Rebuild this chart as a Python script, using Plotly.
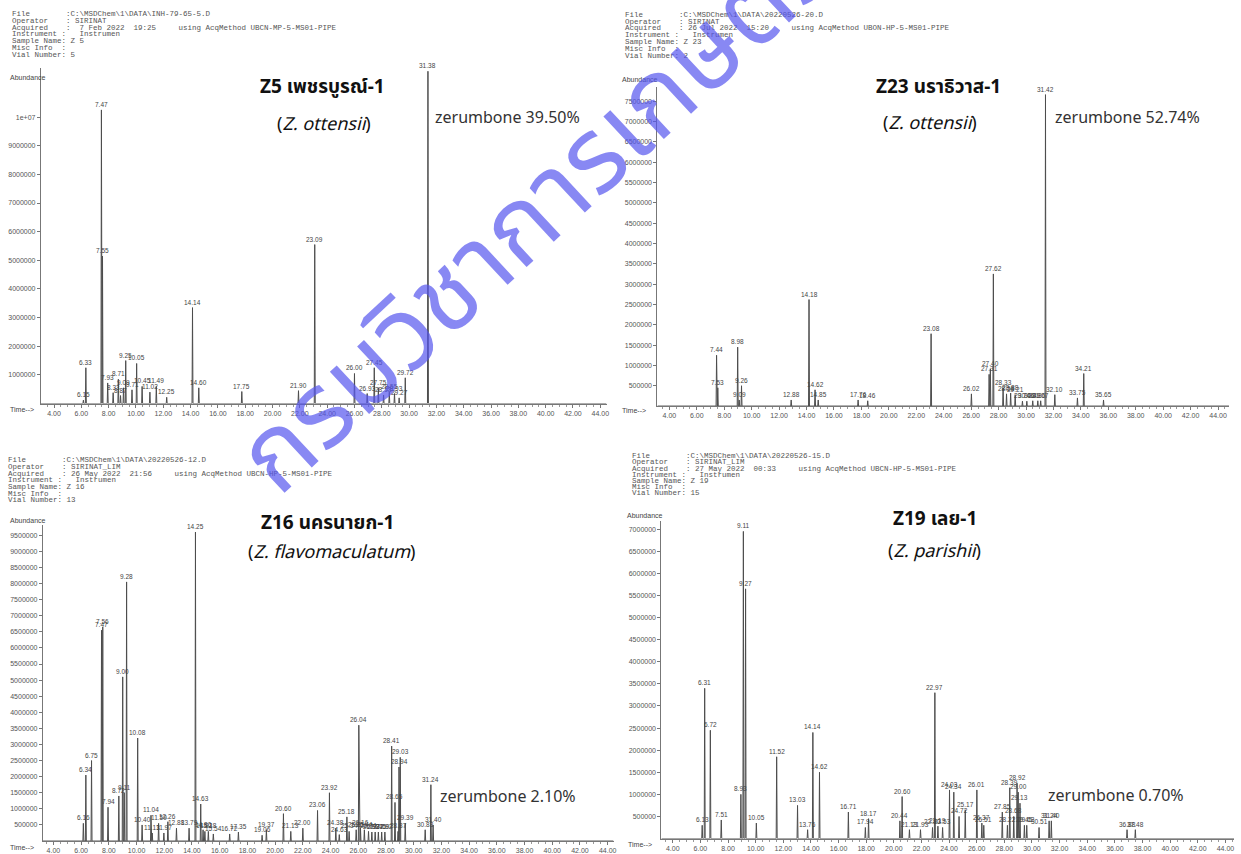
import plotly.graph_objects as go

W, H = 1241, 854

# ---------------- data ----------------
z5_rt = [6.15, 6.33, 7.47, 7.55, 7.93, 8.33, 8.71, 8.87, 9.09, 9.25, 9.71, 10.05, 10.45, 11.02, 11.49,
         12.25, 14.14, 14.60, 17.75, 21.90, 23.09, 26.00, 26.93, 27.45, 27.75, 28.13, 28.55, 28.93,
         29.27, 29.72, 31.38]
z5_abund = [0.12e6, 1.25e6, 10.25e6, 5.15e6, 0.72e6, 0.38e6, 0.85e6, 0.28e6, 0.55e6, 1.5e6, 0.48e6,
            1.4e6, 0.6e6, 0.4e6, 0.6e6, 0.22e6, 3.35e6, 0.55e6, 0.42e6, 0.45e6, 5.55e6, 1.05e6,
            0.35e6, 1.25e6, 0.55e6, 0.3e6, 0.4e6, 0.35e6, 0.2e6, 0.9e6, 11.6e6]

z23_rt = [7.44, 7.53, 8.98, 9.09, 9.26, 12.88, 14.18, 14.62, 14.85, 17.76, 18.46, 23.08, 26.02, 27.31,
          27.40, 27.62, 28.33, 28.58, 28.88, 29.21, 29.74, 30.06, 30.49, 30.86, 31.07, 31.42, 32.10,
          33.75, 34.21, 35.65]
z23_abund = [1.25e6, 0.45e6, 1.45e6, 0.15e6, 0.5e6, 0.15e6, 2.62e6, 0.4e6, 0.15e6, 0.15e6, 0.13e6,
             1.78e6, 0.3e6, 0.78e6, 0.92e6, 3.25e6, 0.45e6, 0.3e6, 0.32e6, 0.28e6, 0.12e6, 0.12e6,
             0.13e6, 0.13e6, 0.13e6, 7.66e6, 0.28e6, 0.2e6, 0.8e6, 0.15e6]

z16_rt = [6.16, 6.34, 6.75, 7.47, 7.56, 7.94, 8.72, 9.00, 9.11, 9.28, 10.08, 10.40, 11.04, 11.13, 11.59,
          11.97, 12.26, 12.88, 13.79, 14.25, 14.63, 14.80, 14.93, 15.18, 15.54, 16.72, 17.35, 19.06,
          19.37, 20.60, 21.13, 22.00, 23.06, 23.92, 24.38, 24.63, 25.18, 25.34, 25.85, 26.04, 26.16,
          26.44, 26.74, 26.98, 27.22, 27.45, 27.69, 27.92, 28.41, 28.65, 28.87, 28.94, 29.03, 29.39,
          30.83, 31.24, 31.40]
z16_abund = [0.55e6, 2.05e6, 2.5e6, 6.55e6, 6.65e6, 1.05e6, 1.4e6, 5.1e6, 1.5e6, 8.05e6, 3.2e6, 0.5e6,
             0.8e6, 0.25e6, 0.55e6, 0.25e6, 0.6e6, 0.4e6, 0.4e6, 9.6e6, 1.15e6, 0.35e6, 0.3e6, 0.3e6,
             0.22e6, 0.22e6, 0.28e6, 0.18e6, 0.35e6, 0.85e6, 0.3e6, 0.4e6, 0.95e6, 1.5e6, 0.4e6, 0.2e6,
             0.75e6, 0.3e6, 0.35e6, 3.6e6, 0.4e6, 0.35e6, 0.3e6, 0.28e6, 0.28e6, 0.28e6, 0.28e6,
             0.28e6, 2.95e6, 1.2e6, 0.3e6, 2.3e6, 2.6e6, 0.55e6, 0.35e6, 1.75e6, 0.5e6]

z19_rt = [6.13, 6.31, 6.72, 7.51, 8.93, 9.11, 9.27, 10.05, 11.52, 13.03, 13.76, 14.14, 14.62, 16.71,
          17.94, 18.17, 20.44, 20.60, 21.13, 21.93, 22.80, 22.97, 23.19, 23.53, 24.03, 24.34, 24.72,
          25.17, 26.01, 26.37, 26.51, 27.85, 28.22, 28.39, 28.68, 28.92, 29.00, 29.13, 29.45, 29.62,
          30.51, 31.24, 31.40, 36.88, 37.48]
z19_abund = [0.3e6, 3.4e6, 2.45e6, 0.42e6, 1.0e6, 6.95e6, 5.65e6, 0.35e6, 1.85e6, 0.75e6, 0.2e6, 2.4e6,
             1.5e6, 0.6e6, 0.25e6, 0.45e6, 0.4e6, 0.95e6, 0.2e6, 0.2e6, 0.25e6, 3.3e6, 0.28e6, 0.25e6,
             1.1e6, 1.05e6, 0.5e6, 0.65e6, 1.1e6, 0.35e6, 0.3e6, 0.6e6, 0.3e6, 1.15e6, 0.5e6, 1.25e6,
             1.05e6, 0.8e6, 0.3e6, 0.3e6, 0.25e6, 0.4e6, 0.4e6, 0.2e6, 0.2e6]

panel_titles = ["Z5 เพชรบูรณ์-1", "Z23 นราธิวาส-1", "Z16 นครนายก-1", "Z19 เลย-1"]
panel_species = ["Z. ottensii", "Z. ottensii", "Z. flavomaculatum", "Z. parishii"]
zerumbone_text = ["zerumbone 39.50%", "zerumbone 52.74%", "zerumbone 2.10%", "zerumbone 0.70%"]

time_ticks = [4, 6, 8, 10, 12, 14, 16, 18, 20, 22, 24, 26, 28, 30, 32, 34, 36, 38, 40, 42, 44]
z5_yticks = [1e6, 2e6, 3e6, 4e6, 5e6, 6e6, 7e6, 8e6, 9e6, 1e7]
z23_yticks = [5e5 * k for k in range(1, 16)]
z16_yticks = [5e5 * k for k in range(1, 20)]
z19_yticks = [5e5 * k for k in range(1, 15)]

headers = [
    ["File        :C:\\MSDChem\\1\\DATA\\INH-79-65-5.D",
     "Operator    : SIRINAT",
     "Acquired    :  7 Feb 2022  19:25     using AcqMethod UBCN-MP-5-MS01-PIPE",
     "Instrument :   Instrumen",
     "Sample Name: Z 5",
     "Misc Info  :",
     "Vial Number: 5"],
    ["File        :C:\\MSDChem\\1\\DATA\\20220526-20.D",
     "Operator    : SIRINAT",
     "Acquired    : 26 Jul 2022  15:20     using AcqMethod UBON-HP-5-MS01-PIPE",
     "Instrument :   Instrumen",
     "Sample Name: Z 23",
     "Misc Info  :",
     "Vial Number: 2"],
    ["File        :C:\\MSDChem\\1\\DATA\\20220526-12.D",
     "Operator    : SIRINAT_LIM",
     "Acquired    : 26 May 2022  21:56     using AcqMethod UBCN-HP-5-MS01-PIPE",
     "Instrument :   Instrumen",
     "Sample Name: Z 16",
     "Misc Info  :",
     "Vial Number: 13"],
    ["File        :C:\\MSDChem\\1\\DATA\\20220526-15.D",
     "Operator    : SIRINAT_LIM",
     "Acquired    : 27 May 2022  00:33     using AcqMethod UBCN-HP-5-MS01-PIPE",
     "Instrument :   Instrumen",
     "Sample Name: Z 19",
     "Misc Info  :",
     "Vial Number: 15"],
]

watermark_text = "กรมวิชาการเกษตร"

# ---------------- layout geometry (pixels) ----------------
panels = [
    dict(rt=z5_rt, ab=z5_abund, yt=z5_yticks, x0=41, x1=608, t0=-0.6, sc=13.69,
         ytop=68, ybase=405, ppm=28.75, hx=10, hy=14, hdy=6.8,
         abx=8, aby=78, tmx=8, tmy=411,
         title=(323, 88), spec=(325, 125), zer=(509, 118)),
    dict(rt=z23_rt, ab=z23_abund, yt=z23_yticks, x0=659, x1=1232, t0=616, sc=13.75,
         ytop=87, ybase=407.5, ppm=40.8, hx=625, hy=15, hdy=6.8,
         abx=622, aby=80, tmx=622, tmy=412,
         title=(941, 88), spec=(932, 124), zer=(1130, 118)),
    dict(rt=z16_rt, ab=z16_abund, yt=z16_yticks, x0=43, x1=615, t0=-2, sc=13.89,
         ytop=527, ybase=844, ppm=32.3, hx=6, hy=462, hdy=6.67,
         abx=8, aby=522, tmx=8, tmy=850,
         title=(328, 525), spec=(332, 554), zer=(509, 800)),
    dict(rt=z19_rt, ab=z19_abund, yt=z19_yticks, x0=663, x1=1237, t0=619, sc=13.85,
         ytop=523, ybase=841.5, ppm=44.35, hx=632, hy=458, hdy=6.1,
         abx=627, aby=517, tmx=628, tmy=847,
         title=(937, 521), spec=(937, 553), zer=(1119, 799)),
]

GRAY = "#4d4d4d"
NARROW = "Liberation Sans Narrow, Liberation Sans, Arial, sans-serif"
MONO = "Liberation Mono, Courier New, monospace"
THAI = "Noto Sans Thai, Noto Sans, DejaVu Sans, sans-serif"

fig = go.Figure()
annotations = []
layout_axes = {}

for i, p in enumerate(panels, start=1):
    xa = "x" if i == 1 else f"x{i}"
    ya = "y" if i == 1 else f"y{i}"
    t_lo = (p["x0"] - p["t0"]) / p["sc"]
    t_hi = (p["x1"] - p["t0"]) / p["sc"]
    ymax = (p["ybase"] - p["ytop"]) / p["ppm"] * 1e6

    # spike chromatogram built from the peak lists
    xs, ys = [t_lo], [0]
    w = 0.035
    for t, a in sorted(zip(p["rt"], p["ab"])):
        xs += [t - w, t, t + w]
        ys += [0, a, 0]
    xs.append(t_hi)
    ys.append(0)
    fig.add_trace(go.Scatter(x=xs, y=ys, mode="lines", xaxis=xa, yaxis=ya,
                             line=dict(color=GRAY, width=1), hoverinfo="skip"))

    for t, a in zip(p["rt"], p["ab"]):
        annotations.append(dict(x=t, y=a, xref=xa, yref=ya, text=f"{t:.2f}", showarrow=False,
                                yanchor="bottom", xanchor="center", yshift=0,
                                font=dict(size=6.5, color="#444", family=NARROW)))

    xkey = "xaxis" if i == 1 else f"xaxis{i}"
    ykey = "yaxis" if i == 1 else f"yaxis{i}"
    layout_axes[xkey] = dict(
        domain=[p["x0"] / W, p["x1"] / W], range=[t_lo, t_hi], anchor=ya,
        showgrid=False, zeroline=False, showline=True, linecolor="#777", linewidth=1,
        ticks="outside", ticklen=3, tickcolor="#777", tickmode="array",
        tickvals=time_ticks, ticktext=[f"{v:.2f}" for v in time_ticks],
        tickfont=dict(size=7, color="#555", family=NARROW),
        minor=dict(ticks="outside", ticklen=2, dtick=0.5, tick0=0, tickcolor="#999"),
        fixedrange=True)
    ytext = [("1e+07" if v >= 1e7 else str(int(v))) for v in p["yt"]]
    layout_axes[ykey] = dict(
        domain=[1 - p["ybase"] / H, 1 - p["ytop"] / H], range=[0, ymax], anchor=xa,
        showgrid=False, zeroline=False, showline=True, linecolor="#777", linewidth=1,
        ticks="outside", ticklen=3, tickcolor="#777", tickmode="array",
        tickvals=p["yt"], ticktext=ytext,
        tickfont=dict(size=7, color="#555", family=NARROW), fixedrange=True)

    # header block
    for k, line in enumerate(headers[i - 1]):
        annotations.append(dict(x=p["hx"] / W, y=1 - (p["hy"] + k * p["hdy"]) / H,
                                xref="paper", yref="paper", xanchor="left", yanchor="middle",
                                text=line.replace(" ", "\u00a0"), showarrow=False,
                                font=dict(size=7.5, color="#555", family=MONO)))
    annotations.append(dict(x=p["abx"] / W, y=1 - p["aby"] / H, xref="paper", yref="paper",
                            xanchor="left", yanchor="middle", text="Abundance", showarrow=False,
                            font=dict(size=7, color="#444", family=NARROW)))
    annotations.append(dict(x=p["tmx"] / W, y=1 - p["tmy"] / H, xref="paper", yref="paper",
                            xanchor="left", yanchor="middle", text="Time-->", showarrow=False,
                            font=dict(size=7, color="#444", family=NARROW)))
    # titles
    annotations.append(dict(x=p["title"][0] / W, y=1 - p["title"][1] / H, xref="paper", yref="paper",
                            xanchor="center", yanchor="middle", text=f"<b>{panel_titles[i - 1]}</b>",
                            showarrow=False, font=dict(size=19, color="#111", family=THAI)))
    annotations.append(dict(x=p["spec"][0] / W, y=1 - p["spec"][1] / H, xref="paper", yref="paper",
                            xanchor="center", yanchor="middle",
                            text=f"(<i>{panel_species[i - 1]}</i>)",
                            showarrow=False, font=dict(size=18, color="#111", family=THAI)))
    annotations.append(dict(x=p["zer"][0] / W, y=1 - p["zer"][1] / H, xref="paper", yref="paper",
                            xanchor="center", yanchor="middle", text=zerumbone_text[i - 1],
                            showarrow=False, font=dict(size=16, color="#333", family=THAI)))

# watermark
annotations.append(dict(x=539 / W, y=1 - 214 / H, xref="paper", yref="paper", xanchor="center",
                        yanchor="middle", text=watermark_text, textangle=-43, showarrow=False,
                        font=dict(size=105, color="rgba(85,85,238,0.7)", family=THAI)))

fig.update_layout(
    width=W, height=H, autosize=False,
    margin=dict(l=0, r=0, t=0, b=0),
    paper_bgcolor="white", plot_bgcolor="white",
    showlegend=False, annotations=annotations, **layout_axes)

fig.write_html("out.html", config={"displayModeBar": False},
               post_script="document.body.style.margin='0px';document.body.style.overflow='hidden';")
